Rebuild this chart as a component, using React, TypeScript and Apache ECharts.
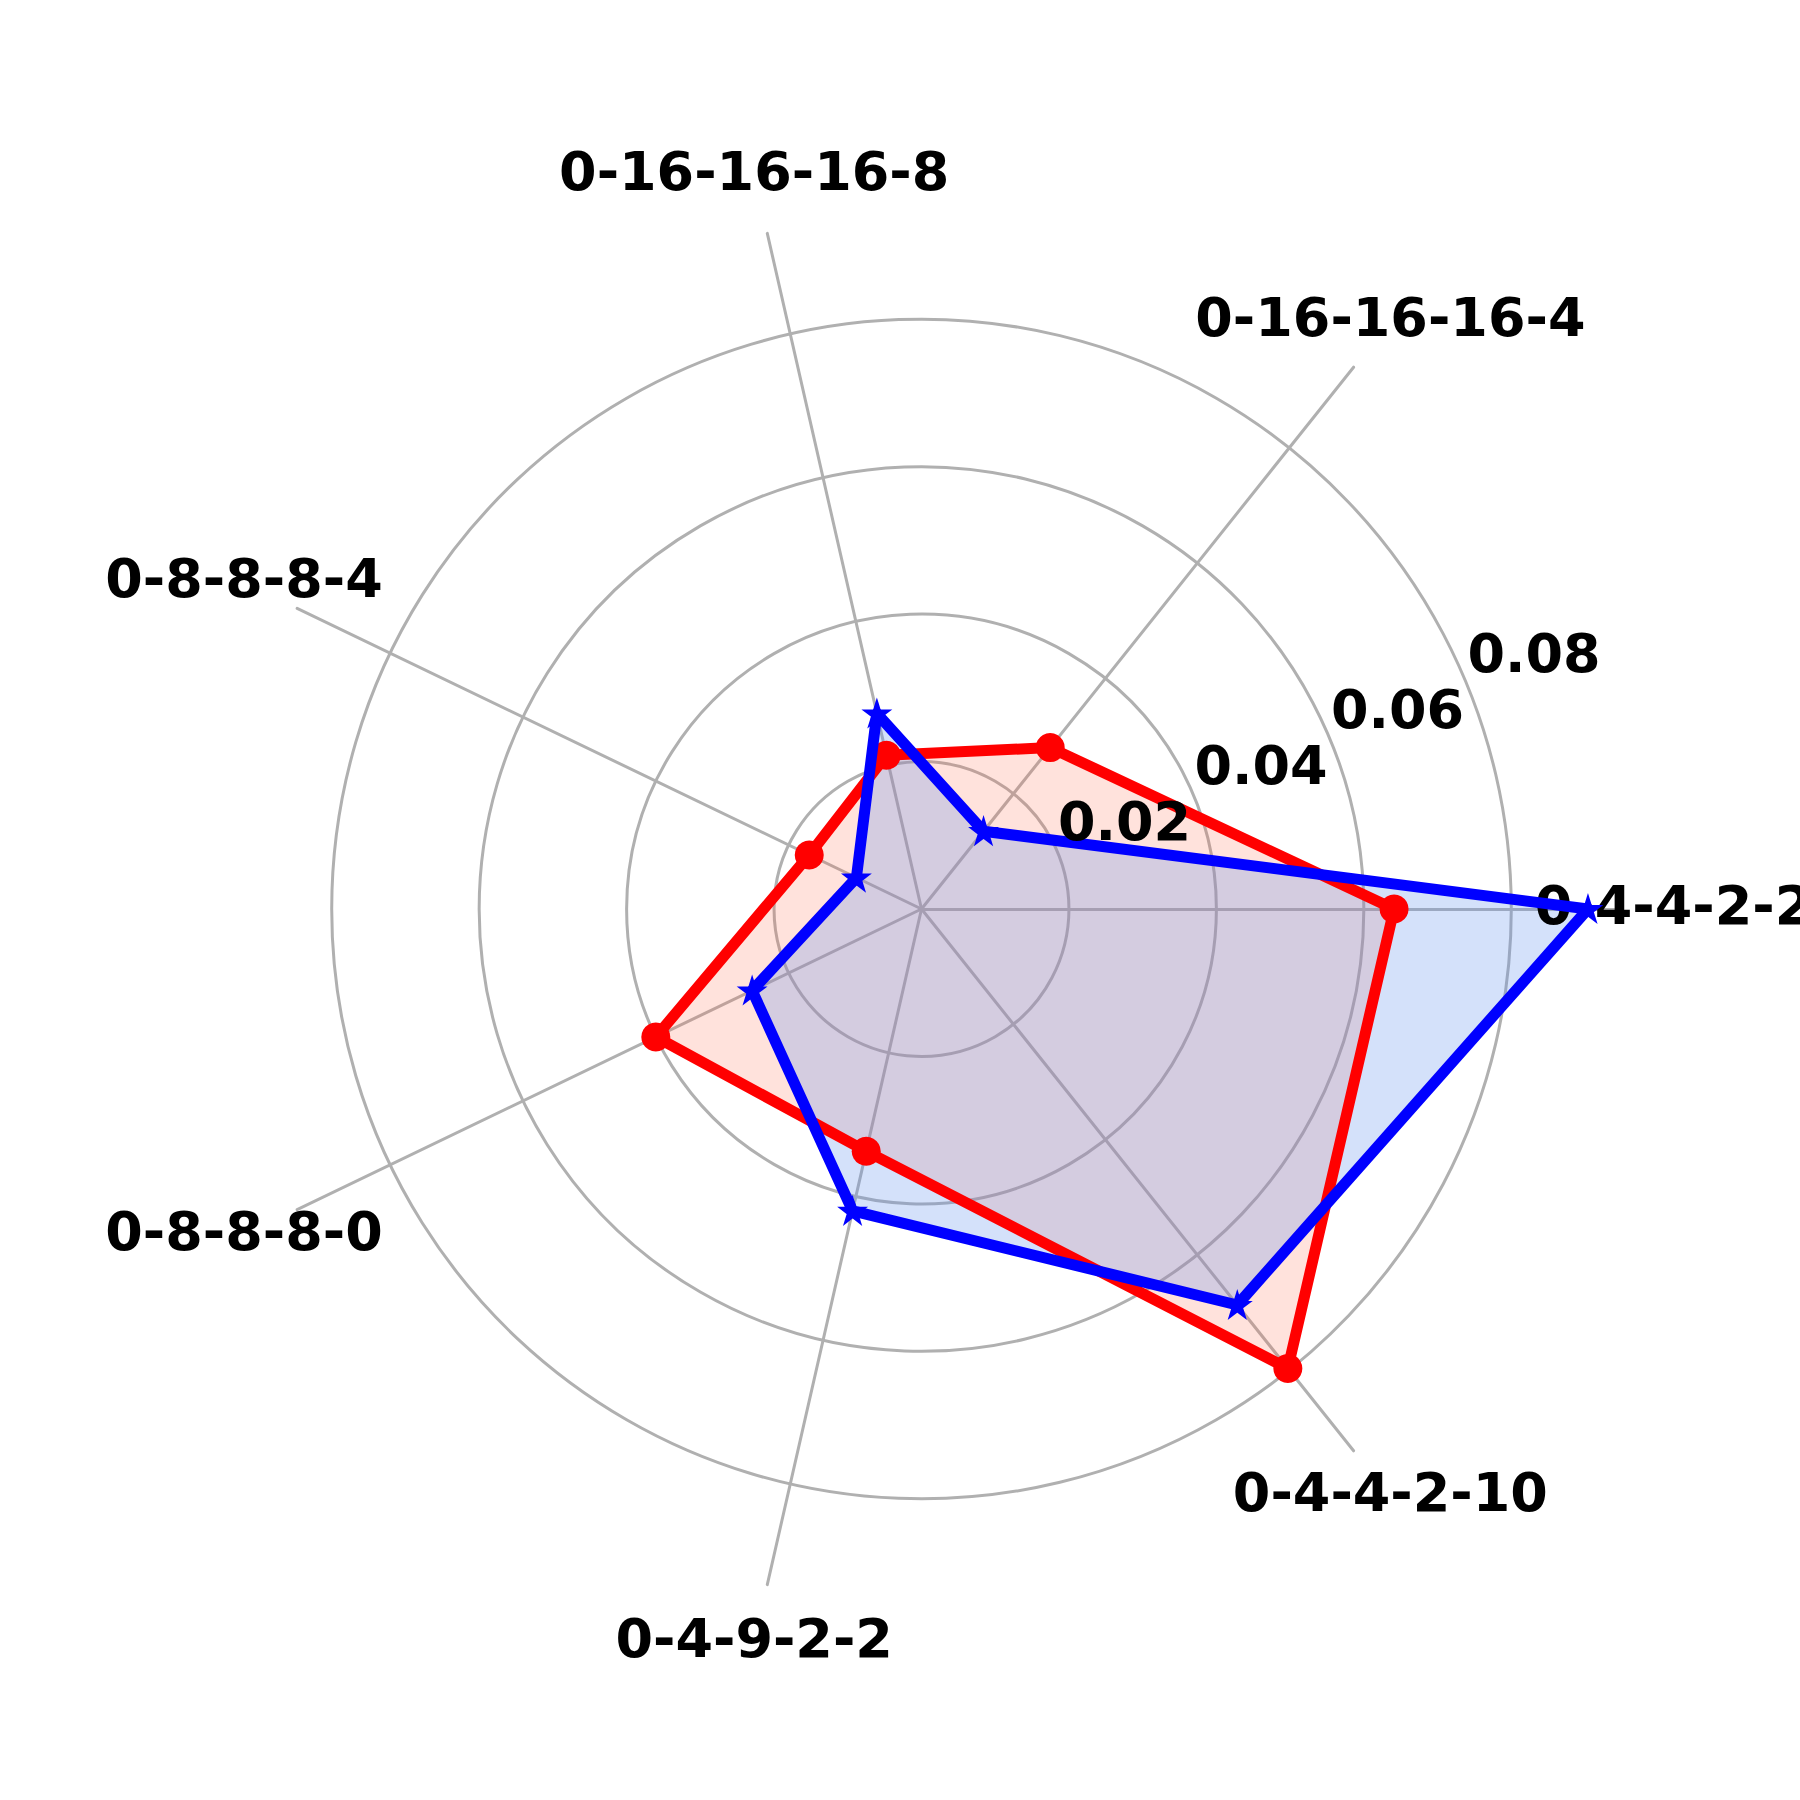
import React, { useEffect, useRef } from "react";
import * as echarts from "echarts";

const CATEGORIES = ["0-4-4-2-2", "0-16-16-16-4", "0-16-16-16-8", "0-8-8-8-4", "0-8-8-8-0", "0-4-9-2-2", "0-4-4-2-10"];
const RED_VALUES = [0.0641, 0.028, 0.0214, 0.0169, 0.04, 0.0337, 0.0797];
const BLUE_VALUES = [0.0904, 0.0135, 0.0272, 0.0098, 0.0255, 0.042, 0.0687];
const TICK_VALUES = [0.02, 0.04, 0.06, 0.08];
const TICK_LABELS = ["0.02", "0.04", "0.06", "0.08"];
const AXIS_MAX = 0.094;
const GRID_MAX = 0.08;

// layout
const CX = 921.5;
const CY = 909;
const R_AXIS = 693;
const R_GRID = (R_AXIS * GRID_MAX) / AXIS_MAX;
const R_NAME = 752;
const FONT = "'DejaVu Sans', sans-serif";
const GRID_COLOR = "#b0b0b0";

const STAR =
  "path://M0,-1L0.2245,-0.309L0.951,-0.309L0.363,0.118L0.588,0.809L0,0.382L-0.588,0.809L-0.363,0.118L-0.951,-0.309L-0.2245,-0.309Z";

export default function App() {
  const ref = useRef<HTMLDivElement>(null);
  useEffect(() => {
    if (!ref.current) return;
    const chart = echarts.init(ref.current, null, { renderer: "svg" });
    const n = CATEGORIES.length;
    const nameTexts = CATEGORIES.map((c, i) => {
      const a = (i * 2 * Math.PI) / n;
      return {
        type: "text",
        z: 4,
        x: CX + R_NAME * Math.cos(a),
        y: CY - R_NAME * Math.sin(a) - 4,
        style: {
          text: c,
          fill: "#000",
          font: `bold 54px ${FONT}`,
          textAlign: "center",
          textVerticalAlign: "middle",
        },
      };
    });
    const tickTexts = TICK_VALUES.map((v, i) => {
      const s = (v - 0.02) / 0.02;
      return {
        type: "text",
        z: 100,
        x: CX + 203 + s * 136.5,
        y: CY - 87.3 - s * 56.1,
        style: {
          text: TICK_LABELS[i],
          fill: "#000",
          font: `bold 54px ${FONT}`,
          textAlign: "center",
          textVerticalAlign: "middle",
        },
      };
    });
    const areaSeries = (name: string, values: number[], fill: string, z: number) => ({
      type: "radar",
      radarIndex: 0,
      z,
      silent: true,
      data: [
        {
          name,
          value: values,
          symbol: "none",
          lineStyle: { width: 0, opacity: 0 },
          areaStyle: { color: fill, opacity: 1 },
        },
      ],
    });
    chart.setOption({
      animation: false,
      backgroundColor: "#fff",
      radar: [
        {
          center: [CX, CY],
          radius: R_AXIS,
          startAngle: 0,
          shape: "circle",
          indicator: CATEGORIES.map((c) => ({ name: c, min: 0, max: AXIS_MAX })),
          axisName: { show: false },
          splitLine: { show: false },
          splitArea: { show: false },
          axisTick: { show: false },
          axisLabel: { show: false },
          axisLine: { show: true, lineStyle: { color: GRID_COLOR, width: 3 } },
        },
        {
          center: [CX, CY],
          radius: R_GRID,
          startAngle: 0,
          shape: "circle",
          splitNumber: 4,
          indicator: CATEGORIES.map((c) => ({ name: c, min: 0, max: GRID_MAX })),
          axisName: { show: false },
          splitLine: { show: true, lineStyle: { color: GRID_COLOR, width: 3 } },
          splitArea: { show: false },
          axisTick: { show: false },
          axisLabel: { show: false },
          axisLine: { show: false },
        },
      ],
      series: [
        areaSeries("Red area", RED_VALUES, "rgba(255,110,80,0.2)", 2),
        areaSeries("Blue area", BLUE_VALUES, "rgba(100,149,237,0.28)", 3),
        {
          type: "radar",
          radarIndex: 0,
          z: 5,
          data: [
            {
              name: "Red",
              value: RED_VALUES,
              symbol: "circle",
              symbolSize: 29,
              lineStyle: { color: "#ff0000", width: 11 },
              itemStyle: { color: "#ff0000" },
            },
          ],
        },
        {
          type: "radar",
          radarIndex: 0,
          z: 6,
          data: [
            {
              name: "Blue",
              value: BLUE_VALUES,
              symbol: STAR,
              symbolSize: 22,
              lineStyle: { color: "#0000ff", width: 11 },
              itemStyle: { color: "#0000ff", borderColor: "#0000ff", borderWidth: 3 },
            },
          ],
        },
      ],
      graphic: [...nameTexts, ...tickTexts],
    });
    return () => chart.dispose();
  }, []);
  return (
    <div
      ref={ref}
      style={{ position: "absolute", left: 0, top: 0, width: 1800, height: 1800 }}
    />
  );
}
